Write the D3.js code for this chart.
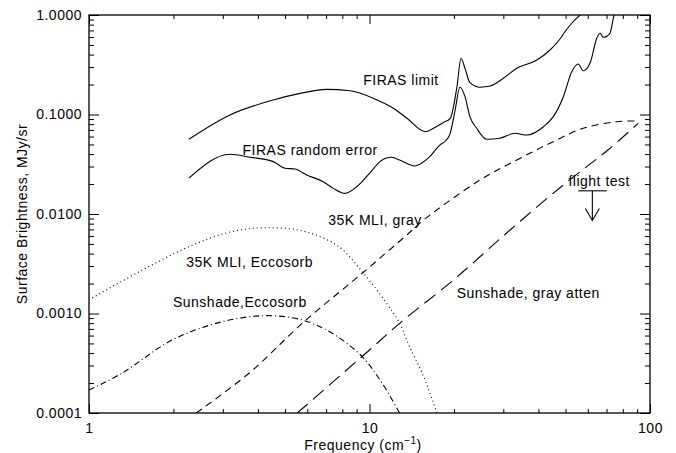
<!DOCTYPE html>
<html>
<head>
<meta charset="utf-8">
<script src="https://cdn.jsdelivr.net/npm/d3@7"></script>
<style>
  body { margin: 0; background: #fff; }
  text { font-family: "Liberation Sans", Arial, sans-serif; font-size: 14px; fill: #000; letter-spacing: 0.5px; }
</style>
</head>
<body>
<svg id="chart"></svg>
<script>
// FIRAS limit (solid, upper)
const limitFreq = [2.27, 3.18, 4.54, 5.66, 7.04, 8.51, 10.3, 12.2, 13.6, 15.8, 16.9, 18.3, 19.4, 20.5, 21.2, 21.9, 22.8, 24.8, 26.9, 30.0, 33.5, 39.5, 44.0, 48.4, 49.1, 52.6, 56.3, 61.1];
const limitVal  = [0.0563, 0.0989, 0.140, 0.163, 0.179, 0.173, 0.146, 0.115, 0.0916, 0.0672, 0.0727, 0.0827, 0.0916, 0.190, 0.367, 0.291, 0.209, 0.188, 0.193, 0.231, 0.291, 0.353, 0.445, 0.605, 0.644, 0.826, 1.0, 1.26];

// FIRAS random error (solid, lower)
const errorFreq = [2.27, 3.18, 3.75, 4.54, 5.00, 5.42, 5.97, 6.84, 7.43, 8.18, 9.00, 10.0, 10.9, 11.4, 12.0, 12.8, 14.5, 16.4, 17.8, 18.8, 19.4, 20.2, 21.0, 21.9, 22.8, 24.1, 26.2, 29.2, 33.0, 36.3, 41.7, 45.2, 49.1, 52.6, 55.5, 57.8, 61.1, 64.6, 66.3, 68.2, 72.0, 74.0, 76.3];
const errorVal  = [0.0229, 0.0398, 0.0372, 0.0336, 0.0288, 0.0283, 0.0247, 0.0211, 0.0181, 0.0161, 0.0188, 0.0256, 0.0336, 0.0363, 0.0372, 0.0349, 0.0304, 0.0377, 0.0493, 0.0554, 0.0647, 0.111, 0.188, 0.151, 0.0951, 0.0727, 0.0563, 0.0577, 0.0647, 0.0622, 0.0754, 0.0951, 0.151, 0.269, 0.322, 0.275, 0.327, 0.583, 0.655, 0.597, 0.655, 0.927, 1.18];

// 35K MLI, Eccosorb (dotted)
const mliEccoFreq = [1.0, 1.51, 2.27, 3.16, 4.27, 5.92, 7.78, 9.42, 11.5, 12.8, 13.9, 15.6, 17.4];
const mliEccoVal  = [0.00137, 0.00263, 0.00469, 0.00655, 0.00728, 0.00664, 0.00469, 0.00263, 0.00127, 0.000797, 0.000464, 0.000232, 0.0001];

// Sunshade, Eccosorb (dash-dot)
const sunEccoFreq = [1.0, 1.31, 1.98, 2.99, 4.27, 5.76, 7.36, 9.42, 11.1, 12.8];
const sunEccoVal  = [0.000170, 0.000251, 0.000542, 0.000828, 0.000951, 0.000861, 0.000633, 0.000368, 0.000199, 0.0001];

// 35K MLI, gray (short dash)
const mliGrayFreq = [2.41, 3.72, 5.76, 9.42, 13.8, 15.6, 24.8, 33.5, 44.0, 57.8, 76.1, 90.8];
const mliGrayVal  = [0.0001, 0.000251, 0.000797, 0.00254, 0.00640, 0.00871, 0.0220, 0.0349, 0.0514, 0.0727, 0.0847, 0.0861];

// Sunshade, gray atten (long dash)
const sunGrayFreq = [5.53, 10.0, 12.8, 19.9, 31.7, 49.1, 70.8, 90.8];
const sunGrayVal  = [0.0001, 0.00043, 0.000797, 0.00217, 0.00690, 0.0196, 0.0440, 0.0816];

// flight test upper limit
const flightFreq = [55.5, 62.3, 70.1];   // bar start, arrow, bar end
const flightVal = 0.0171;
const flightArrowTo = 0.0086;

// tick values
const xMajor = [1, 10, 100];
const yMajor = [0.0001, 0.001, 0.01, 0.1, 1];
const xMinor = [2,3,4,5,6,7,8,9,20,30,40,50,60,70,80,90];
const yMinor = [];
yMajor.slice(0, -1).forEach(d => { for (let k = 2; k <= 9; k++) yMinor.push(d * k); });

// curve labels
const labels = [
  {text: "FIRAS limit",          f: 12.95, v: 0.222},
  {text: "FIRAS random error",   f: 6.14,  v: 0.0440},
  {text: "35K MLI, gray",        f: 10.46, v: 0.00871},
  {text: "35K MLI, Eccosorb",    f: 3.74,  v: 0.00332},
  {text: "Sunshade,Eccosorb",    f: 3.45,  v: 0.001315},
  {text: "Sunshade, gray atten", f: 36.8,  v: 0.001618},
  {text: "flight test",          f: 65.9,  v: 0.0216}
];

const width = 676, height = 453;
const plotL = 89, plotR = 650, plotT = 15, plotB = 413;

const svg = d3.select("#chart")
  .attr("width", width)
  .attr("height", height);

const x = d3.scaleLog().domain([1, 100]).range([plotL, plotR]);
const y = d3.scaleLog().domain([0.0001, 1]).range([plotB, plotT]);

svg.append("clipPath").attr("id", "clip")
  .append("rect")
  .attr("x", plotL).attr("y", plotT)
  .attr("width", plotR - plotL).attr("height", plotB - plotT);

// axes: ticks point inward on all four sides
function axisGroup(axis, tx, ty) {
  const g = svg.append("g")
    .attr("transform", `translate(${tx},${ty})`)
    .call(axis);
  g.select(".domain").remove();
  g.selectAll(".tick line").attr("stroke-width", 1);
  return g;
}
axisGroup(d3.axisBottom(x).tickValues(xMajor).tickFormat(d3.format("d")).tickSize(-9).tickPadding(10), 0, plotB);
axisGroup(d3.axisBottom(x).tickValues(xMinor).tickFormat("").tickSize(-4), 0, plotB);
axisGroup(d3.axisTop(x).tickValues(xMajor).tickFormat("").tickSize(-9), 0, plotT);
axisGroup(d3.axisTop(x).tickValues(xMinor).tickFormat("").tickSize(-4), 0, plotT);
axisGroup(d3.axisLeft(y).tickValues(yMajor).tickFormat(d3.format(".4f")).tickSize(-10).tickPadding(7), plotL, 0);
axisGroup(d3.axisLeft(y).tickValues(yMinor).tickFormat("").tickSize(-5), plotL, 0);
axisGroup(d3.axisRight(y).tickValues(yMajor).tickFormat("").tickSize(-10), plotR, 0);
axisGroup(d3.axisRight(y).tickValues(yMinor).tickFormat("").tickSize(-5), plotR, 0);

svg.append("rect")
  .attr("x", plotL).attr("y", plotT)
  .attr("width", plotR - plotL).attr("height", plotB - plotT)
  .attr("fill", "none").attr("stroke", "#000").attr("stroke-width", 1.3);

// curves: measured FIRAS curves keep sharp features, model curves are smooth
const measured = d3.line()
  .x(d => x(d[0]))
  .y(d => y(d[1]))
  .curve(d3.curveMonotoneX);
const model = d3.line()
  .x(d => x(d[0]))
  .y(d => y(d[1]))
  .curve(d3.curveCatmullRom.alpha(0.5));

const series = [
  {f: limitFreq,   v: limitVal,   dash: null,      gen: measured},
  {f: errorFreq,   v: errorVal,   dash: null,      gen: measured},
  {f: mliEccoFreq, v: mliEccoVal, dash: "1,3",     gen: model},
  {f: sunEccoFreq, v: sunEccoVal, dash: "6,3,1,3", gen: model},
  {f: mliGrayFreq, v: mliGrayVal, dash: "7,5",     gen: model},
  {f: sunGrayFreq, v: sunGrayVal, dash: "14,7",    gen: model}
];

svg.append("g").attr("clip-path", "url(#clip)")
  .selectAll("path")
  .data(series)
  .enter()
  .append("path")
  .attr("d", s => s.gen(d3.zip(s.f, s.v)))
  .attr("fill", "none")
  .attr("stroke", "#000")
  .attr("stroke-width", 1.1)
  .attr("stroke-dasharray", s => s.dash);

// flight test marker
const ft = svg.append("g").attr("stroke", "#000").attr("stroke-width", 1.1).attr("fill", "none");
ft.append("line")
  .attr("x1", x(flightFreq[0])).attr("x2", x(flightFreq[2]))
  .attr("y1", y(flightVal)).attr("y2", y(flightVal));
ft.append("line")
  .attr("x1", x(flightFreq[1])).attr("x2", x(flightFreq[1]))
  .attr("y1", y(flightVal)).attr("y2", y(flightArrowTo));
ft.append("path")
  .attr("d", `M${x(flightFreq[1]) - 7},${y(flightArrowTo) - 12}L${x(flightFreq[1])},${y(flightArrowTo)}L${x(flightFreq[1]) + 7},${y(flightArrowTo) - 12}`);

// labels
svg.append("g")
  .selectAll("text")
  .data(labels)
  .enter()
  .append("text")
  .attr("x", d => x(d.f))
  .attr("y", d => y(d.v))
  .attr("dy", "0.36em")
  .attr("text-anchor", "middle")
  .text(d => d.text);

// axis titles
svg.append("text")
  .attr("transform", `translate(27,${(plotT + plotB) / 2}) rotate(-90)`)
  .attr("text-anchor", "middle")
  .text("Surface Brightness, MJy/sr");

const xt = svg.append("text")
  .attr("x", 363)
  .attr("y", 450)
  .attr("text-anchor", "middle");
xt.append("tspan").text("Frequency (cm");
xt.append("tspan").attr("dy", -6).style("font-size", "10px").text("−1");
xt.append("tspan").attr("dy", 6).text(")");
</script>
</body>
</html>
